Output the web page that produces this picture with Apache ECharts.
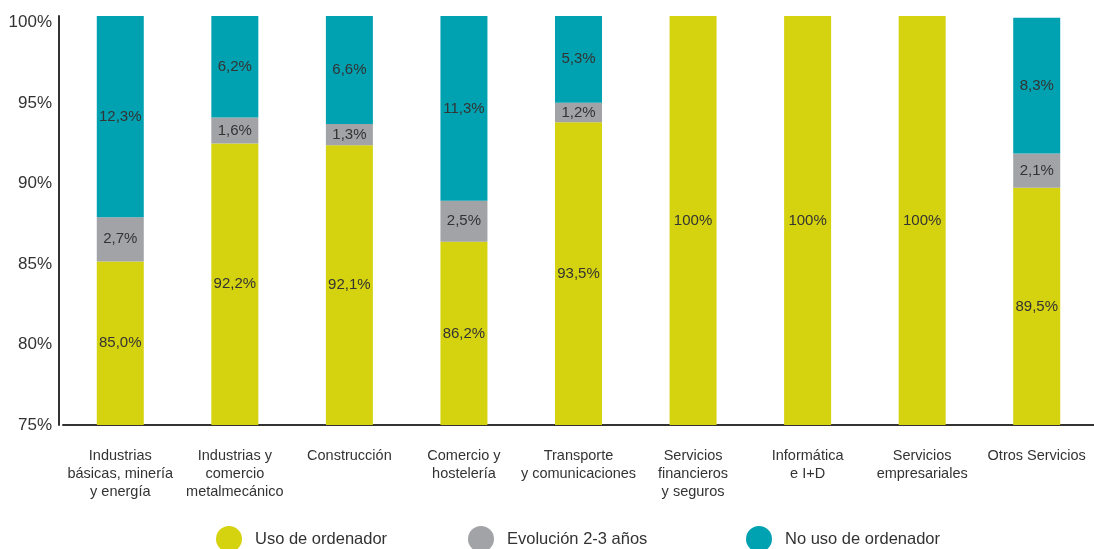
<!DOCTYPE html>
<html>
<head>
<meta charset="utf-8">
<script src="https://cdn.jsdelivr.net/npm/echarts@6/dist/echarts.min.js"></script>
<style>
  html, body { margin: 0; padding: 0; background: #fff; }
  #chart { width: 1094px; height: 549px; }
</style>
</head>
<body>
<div id="chart"></div>
<script>
// datos
const categories = [
  'Industrias\nbásicas, minería\ny energía',
  'Industrias y\ncomercio\nmetalmecánico',
  'Construcción',
  'Comercio y\nhostelería',
  'Transporte\ny comunicaciones',
  'Servicios\nfinancieros\ny seguros',
  'Informática\ne I+D',
  'Servicios\nempresariales',
  'Otros Servicios'
]
const usoOrdenador = [85.0, 92.2, 92.1, 86.2, 93.5, 100, 100, 100, 89.5]
const evolucion = [2.7, 1.6, 1.3, 2.5, 1.2, 0, 0, 0, 2.1]
const noUso = [12.3, 6.2, 6.6, 11.3, 5.3, 0, 0, 0, 8.3]
const yTicks = [75, 80, 85, 90, 95, 100]
const seriesNames = ['Uso de ordenador', 'Evolución 2-3 años', 'No uso de ordenador']
const colors = ['#d5d20f', '#a2a3a7', '#00a1b0']

const FONT = '"Liberation Sans", Arial, sans-serif'
const TEXT = '#333'

const fmt = (v) => {
  if (!v) return ''
  if (v === 100) return '100%'
  return v.toFixed(1).replace('.', ',') + '%'
}

const mkSeries = (i, data) => ({
  name: seriesNames[i],
  type: 'bar',
  stack: 'total',
  barWidth: 47,
  data: data,
  itemStyle: { color: colors[i] },
  label: {
    show: true,
    position: 'inside',
    color: TEXT,
    fontFamily: FONT,
    fontSize: 15,
    formatter: (p) => fmt(p.value)
  }
})

// una leyenda por serie, para colocar cada una donde está en el original
const legendLeft = [216, 468, 746]
const legends = seriesNames.map((name, i) => ({
  top: 526,
  left: legendLeft[i],
  padding: 0,
  icon: 'circle',
  itemWidth: 26,
  itemHeight: 26,
  textStyle: { fontFamily: FONT, fontSize: 16.5, color: TEXT, padding: [0, 0, 0, 8] },
  data: [name]
}))

const chart = echarts.init(document.getElementById('chart'))
const option = {
  animation: false,
  textStyle: { fontFamily: FONT },
  grid: {
    left: 63,
    top: 16,
    width: 1033,
    height: 409
  },
  legend: legends,
  xAxis: {
    type: 'category',
    data: categories,
    axisLine: { lineStyle: { color: '#333', width: 2 } },
    axisTick: { show: false },
    axisLabel: {
      color: TEXT,
      fontFamily: FONT,
      fontSize: 14.5,
      lineHeight: 18,
      margin: 22,
      interval: 0
    }
  },
  yAxis: [
    {
      // eje de las barras
      type: 'value',
      min: yTicks[0],
      max: yTicks[yTicks.length - 1],
      interval: 5,
      offset: 4,
      splitLine: { show: false },
      axisLine: { show: true, lineStyle: { color: '#333', width: 2 } },
      axisTick: { show: false },
      axisLabel: { show: false }
    },
    {
      // etiquetas: en el original el 100% queda algo por debajo del tope de las barras
      type: 'value',
      position: 'left',
      min: yTicks[0],
      max: 100.4,
      interval: 5,
      offset: 4,
      splitLine: { show: false },
      axisLine: { show: false },
      axisTick: { show: false },
      axisLabel: {
        color: TEXT,
        fontFamily: FONT,
        fontSize: 17,
        margin: 7,
        showMaxLabel: false,
        formatter: (v) => (yTicks.indexOf(v) >= 0 ? v + '%' : '')
      }
    }
  ],
  series: [
    mkSeries(0, usoOrdenador),
    mkSeries(1, evolucion),
    mkSeries(2, noUso)
  ]
}
chart.setOption(option)
</script>
</body>
</html>
